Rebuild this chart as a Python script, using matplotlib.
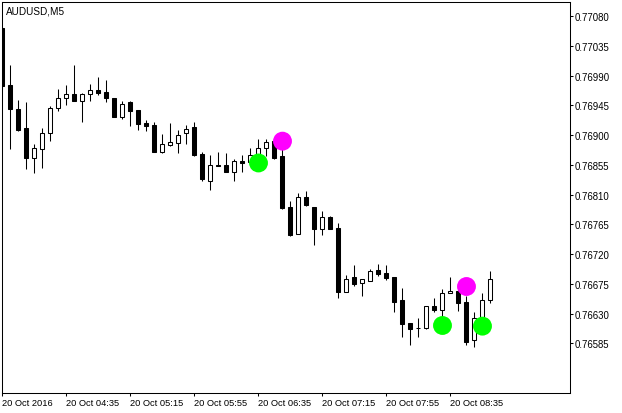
import matplotlib
matplotlib.use("Agg")
import matplotlib.pyplot as plt
import numpy as np

# ---- data (AUDUSD M5, 20 Oct 2016, from 03:55) ----
opens = [0.77063, 0.76976, 0.76940, 0.76911, 0.76865, 0.76879, 0.76904, 0.76941, 0.76956, 0.76962,
         0.76952, 0.76963, 0.76969, 0.76965, 0.76957, 0.76927, 0.76950, 0.76938, 0.76918, 0.76915,
         0.76875, 0.76885, 0.76888, 0.76903, 0.76912, 0.76871, 0.76830, 0.76855, 0.76855, 0.76845,
         0.76861, 0.76859, 0.76870, 0.76880, 0.76892, 0.76868, 0.76792, 0.76751, 0.76806, 0.76792,
         0.76758, 0.76776, 0.76760, 0.76662, 0.76685, 0.76676, 0.76680, 0.76696, 0.76691, 0.76685,
         0.76651, 0.76616, 0.76608, 0.76608, 0.76641, 0.76636, 0.76661, 0.76664, 0.76648, 0.76590,
         0.76624, 0.76650]
highs = [0.77064, 0.77006, 0.76953, 0.76950, 0.76887, 0.76911, 0.76944, 0.76970, 0.76976, 0.77006,
         0.76964, 0.76978, 0.76988, 0.76984, 0.76957, 0.76952, 0.76952, 0.76938, 0.76923, 0.76920,
         0.76902, 0.76919, 0.76908, 0.76915, 0.76920, 0.76874, 0.76870, 0.76875, 0.76873, 0.76864,
         0.76870, 0.76880, 0.76895, 0.76895, 0.76897, 0.76879, 0.76800, 0.76812, 0.76815, 0.76792,
         0.76785, 0.76777, 0.76767, 0.76688, 0.76704, 0.76682, 0.76698, 0.76705, 0.76704, 0.76685,
         0.76669, 0.76616, 0.76623, 0.76641, 0.76654, 0.76667, 0.76685, 0.76667, 0.76657, 0.76632,
         0.76661, 0.76694]
lows = [0.76970, 0.76879, 0.76907, 0.76849, 0.76843, 0.76850, 0.76892, 0.76936, 0.76945, 0.76952,
        0.76920, 0.76952, 0.76961, 0.76951, 0.76927, 0.76924, 0.76914, 0.76908, 0.76907, 0.76875,
        0.76873, 0.76883, 0.76873, 0.76887, 0.76869, 0.76830, 0.76817, 0.76854, 0.76845, 0.76830,
        0.76845, 0.76856, 0.76869, 0.76869, 0.76864, 0.76789, 0.76748, 0.76751, 0.76793, 0.76734,
        0.76749, 0.76758, 0.76653, 0.76662, 0.76672, 0.76657, 0.76679, 0.76687, 0.76681, 0.76632,
        0.76595, 0.76583, 0.76594, 0.76607, 0.76633, 0.76623, 0.76661, 0.76634, 0.76583, 0.76580,
        0.76623, 0.76646]
closes = [0.76975, 0.76940, 0.76908, 0.76865, 0.76881, 0.76904, 0.76941, 0.76956, 0.76962, 0.76952,
          0.76962, 0.76969, 0.76964, 0.76957, 0.76927, 0.76948, 0.76937, 0.76917, 0.76914, 0.76875,
          0.76887, 0.76889, 0.76900, 0.76910, 0.76870, 0.76833, 0.76855, 0.76854, 0.76845, 0.76861,
          0.76858, 0.76870, 0.76880, 0.76889, 0.76866, 0.76790, 0.76749, 0.76806, 0.76795, 0.76758,
          0.76776, 0.76758, 0.76662, 0.76682, 0.76675, 0.76682, 0.76694, 0.76690, 0.76684, 0.76648,
          0.76615, 0.76607, 0.76608, 0.76641, 0.76635, 0.76661, 0.76664, 0.76646, 0.76587, 0.76624,
          0.76651, 0.76683]

up_idx = [32, 55, 60]
up_price = [0.76858, 0.76612, 0.76611]
down_idx = [35, 58]
down_price = [0.76891, 0.76671]

xtick_idx = [0, 8, 16, 24, 32, 40, 48, 56]
xtick_labels = ["20 Oct 2016", "20 Oct 04:35", "20 Oct 05:15", "20 Oct 05:55",
                "20 Oct 06:35", "20 Oct 07:15", "20 Oct 07:55", "20 Oct 08:35"]
ytick_values = [0.76585, 0.76630, 0.76675, 0.76720, 0.76765, 0.76810,
                0.76855, 0.76900, 0.76945, 0.76990, 0.77035, 0.77080]
title = "AUDUSD,M5"

# ---- figure ----
FONT = "Liberation Sans"
fig = plt.figure(figsize=(6.22, 4.14), dpi=100)
fig.patch.set_facecolor("white")
ax = fig.add_axes([2.3 / 622, 1 - 394 / 414, (570 - 2.3) / 622, (394 - 2.7) / 414])
ax.set_facecolor("white")

o = np.array(opens); h = np.array(highs); l = np.array(lows); c = np.array(closes)
x = np.arange(len(o))

ax.vlines(x, l, h, color="black", linewidth=0.75, zorder=2)
bull = c >= o
bottoms = np.minimum(o, c)
heights = np.abs(c - o)
ax.bar(x[bull], heights[bull], bottom=bottoms[bull], width=0.5,
       facecolor="white", edgecolor="black", linewidth=0.75, zorder=3)
ax.bar(x[~bull], heights[~bull], bottom=bottoms[~bull], width=0.5,
       facecolor="black", edgecolor="black", linewidth=0.75, zorder=3)

ax.scatter(up_idx, up_price, s=185, color="#00FF00", edgecolors="none", zorder=5)
ax.scatter(down_idx, down_price, s=185, color="#FF00FF", edgecolors="none", zorder=5)

ax.set_xlim(-0.025, 70.94)
ax.set_ylim(0.765098, 0.771021)

ax.set_xticks(xtick_idx)
ax.set_xticklabels(xtick_labels, ha="left", fontsize=6.7, family=FONT)
ax.set_yticks(ytick_values)
ax.set_yticklabels([f"{v:.5f}" for v in ytick_values], fontsize=6.9, family=FONT)
ax.yaxis.tick_right()
ax.tick_params(axis="x", direction="out", length=2.3, width=0.75, pad=1.5, colors="black")
ax.tick_params(axis="y", direction="out", length=2.3, width=0.75, pad=0.8, colors="black")
for s in ax.spines.values():
    s.set_linewidth(0.75)
    s.set_color("black")

ax.text(4 / 567.7, 1 - 4 / 391.3, title, transform=ax.transAxes, ha="left", va="top",
        fontsize=7.2, family=FONT, color="black")

fig.savefig("out.png", dpi=100, facecolor="white")
